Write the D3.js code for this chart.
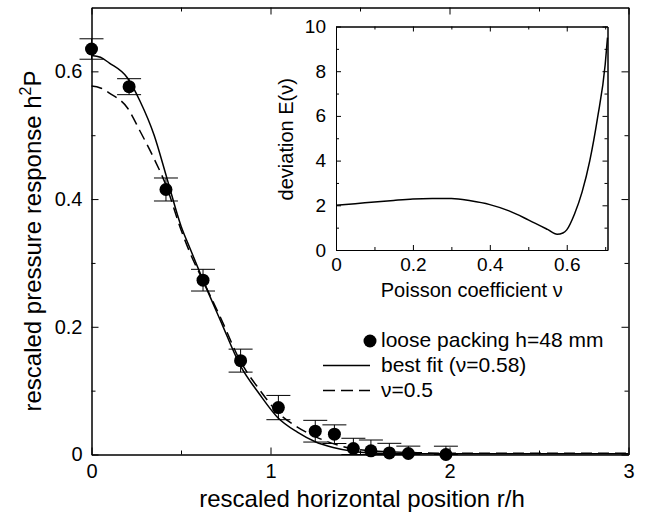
<!DOCTYPE html>
<html>
<head>
<meta charset="utf-8">
<script src="https://cdn.jsdelivr.net/npm/d3@7/dist/d3.min.js"></script>
<style>
  html, body { margin: 0; padding: 0; background: #fff; }
  svg { display: block; }
  text { font-family: "Liberation Sans", Arial, Helvetica, sans-serif; fill: #000; }
</style>
</head>
<body>
<script>
// Measured pressure response (loose packing, h = 48 mm)
const pointX   = [0.00, 0.21, 0.416, 0.623, 0.833, 1.044, 1.25, 1.357, 1.463, 1.561, 1.664, 1.77, 1.98];
const pointY   = [0.635, 0.576, 0.415, 0.273, 0.147, 0.0735, 0.0365, 0.0318, 0.0094, 0.0057, 0.0025, 0.0016, 0.000];
const pointErr = [0.016, 0.0125, 0.018, 0.017, 0.018, 0.019, 0.017, 0.0146, 0.016, 0.017, 0.015, 0.0115, 0.013];

// Best fit response (nu = 0.58)
const fitX = [0, 0.05, 0.1, 0.2, 0.27, 0.35, 0.42, 0.5, 0.55, 0.62, 0.72, 0.83, 0.94, 1.04, 1.15, 1.25, 1.35, 1.46, 1.6, 1.8, 2.0, 2.5, 3.0];
const fitY = [0.625, 0.622, 0.613, 0.590, 0.554, 0.500, 0.434, 0.358, 0.323, 0.275, 0.210, 0.140, 0.094, 0.058, 0.035, 0.020, 0.011, 0.005, 0.002, 0.001, 0.001, 0.001, 0.001];

// Response for nu = 0.5
const halfX = [0, 0.05, 0.1, 0.2, 0.27, 0.35, 0.42, 0.5, 0.55, 0.62, 0.72, 0.83, 0.94, 1.04, 1.15, 1.25, 1.35, 1.46, 1.6, 1.8, 2.0, 2.5, 3.0];
const halfY = [0.577, 0.574, 0.566, 0.543, 0.507, 0.463, 0.419, 0.352, 0.316, 0.274, 0.215, 0.147, 0.101, 0.066, 0.043, 0.028, 0.017, 0.009, 0.005, 0.003, 0.002, 0.002, 0.002];

// Inset: deviation E(nu) against Poisson coefficient
const nuX = [0, 0.05, 0.1, 0.15, 0.2, 0.25, 0.3, 0.35, 0.4, 0.45, 0.5, 0.55, 0.575, 0.59, 0.6, 0.62, 0.64, 0.66, 0.68, 0.7, 0.706];
const devY = [2.0, 2.07, 2.15, 2.22, 2.28, 2.3, 2.3, 2.2, 2.03, 1.75, 1.35, 0.92, 0.70, 0.76, 0.9, 1.6, 2.6, 4.0, 5.9, 8.3, 9.5];

// Axis ticks
const mainXTicks = [0, 1, 2, 3];
const mainXMinor = [0.5, 1.5, 2.5];
const mainYTicks = [0, 0.2, 0.4, 0.6];
const mainYMinor = [0.1, 0.3, 0.5];
const insetXTicks = [0, 0.2, 0.4, 0.6];
const insetXMinor = [0.1, 0.3, 0.5, 0.7];
const insetYTicks = [0, 2, 4, 6, 8, 10];
const insetYMinor = [1, 3, 5, 7, 9];

// Legend entries
const legendLabels = ["loose packing h=48 mm", "best fit (\u03bd=0.58)", "\u03bd=0.5"];
const legendKinds = ["dot", "solid", "dashed"];

const W = 651, H = 514;
const svg = d3.select("body").append("svg").attr("width", W).attr("height", H);

// ---------- main plot ----------
const x = d3.scaleLinear().domain([0, 3]).range([91.5, 628.5]);
const y = d3.scaleLinear().domain([0, 0.7]).range([454.5, 7.5]);

function frame(g, sx, sy, major, minor, majX, minX, majY, minY, fs, padX, padY, fmtX, fmtY) {
  const [x0, x1] = sx.range();
  const [y0, y1] = sy.range();
  // minor ticks on all sides
  g.append("g").attr("transform", `translate(0,${y0})`)
    .call(d3.axisBottom(sx).tickValues(minX).tickSize(-minor).tickSizeOuter(0).tickFormat(""));
  g.append("g").attr("transform", `translate(0,${y1})`)
    .call(d3.axisTop(sx).tickValues(minX).tickSize(-minor).tickSizeOuter(0).tickFormat(""));
  g.append("g").attr("transform", `translate(${x0},0)`)
    .call(d3.axisLeft(sy).tickValues(minY).tickSize(-minor).tickSizeOuter(0).tickFormat(""));
  g.append("g").attr("transform", `translate(${x1},0)`)
    .call(d3.axisRight(sy).tickValues(minY).tickSize(-minor).tickSizeOuter(0).tickFormat(""));
  // major ticks with labels on bottom and left
  g.append("g").attr("class", "lab").attr("transform", `translate(0,${y0})`)
    .call(d3.axisBottom(sx).tickValues(majX).tickSize(-major).tickSizeOuter(0).tickPadding(padX).tickFormat(fmtX));
  g.append("g").attr("transform", `translate(0,${y1})`)
    .call(d3.axisTop(sx).tickValues(majX).tickSize(-major).tickSizeOuter(0).tickFormat(""));
  g.append("g").attr("class", "lab").attr("transform", `translate(${x0},0)`)
    .call(d3.axisLeft(sy).tickValues(majY).tickSize(-major).tickSizeOuter(0).tickPadding(padY).tickFormat(fmtY));
  g.append("g").attr("transform", `translate(${x1},0)`)
    .call(d3.axisRight(sy).tickValues(majY).tickSize(-major).tickSizeOuter(0).tickFormat(""));
  g.selectAll("path.domain").attr("stroke", "#000").attr("stroke-width", 1);
  g.selectAll(".tick line").attr("stroke", "#000").attr("stroke-width", 1);
  g.selectAll(".lab text").attr("font-size", fs).attr("font-family", "Liberation Sans, Arial, sans-serif").attr("fill", "#000");
}

const gMain = svg.append("g");
frame(gMain, x, y, 7, 4, mainXTicks, mainXMinor, mainYTicks, mainYMinor, 20, 9, 9,
  d => d3.format("")(d), d => d === 0 ? "0" : d3.format(".1f")(d));

// curves
const line = d3.line().x(d => x(d[0])).y(d => y(d[1])).curve(d3.curveMonotoneX);
gMain.append("path").datum(fitX.map((v, i) => [v, fitY[i]]))
  .attr("d", line).attr("fill", "none").attr("stroke", "#000").attr("stroke-width", 1.5);
gMain.append("path").datum(halfX.map((v, i) => [v, halfY[i]]))
  .attr("d", line).attr("fill", "none").attr("stroke", "#000").attr("stroke-width", 1.5)
  .attr("stroke-dasharray", "11,6");

// error bars and points
const pts = pointX.map((v, i) => ({ x: v, y: pointY[i], e: pointErr[i] }));
const cap = 12;
const eb = gMain.append("g").attr("stroke", "#000").attr("stroke-width", 1);
pts.forEach(p => {
  const top = y(p.y + p.e);
  const bot = y(Math.max(p.y - p.e, 0));
  const cx = x(p.x);
  eb.append("line").attr("x1", cx).attr("x2", cx).attr("y1", top).attr("y2", bot);
  eb.append("line").attr("x1", cx - cap).attr("x2", cx + cap).attr("y1", top).attr("y2", top);
  eb.append("line").attr("x1", cx - cap).attr("x2", cx + cap).attr("y1", bot).attr("y2", bot);
});
gMain.append("g").selectAll("circle").data(pts).join("circle")
  .attr("cx", d => x(d.x)).attr("cy", d => y(d.y)).attr("r", 6.5).attr("fill", "#000");

// axis titles
gMain.append("text").attr("x", (x.range()[0] + x.range()[1]) / 2 + 2).attr("y", 507)
  .attr("text-anchor", "middle").attr("font-size", 24).text("rescaled horizontal position r/h");
const yt = gMain.append("text").attr("transform", `translate(41,${(y.range()[0] + y.range()[1]) / 2 + 10}) rotate(-90)`)
  .attr("text-anchor", "middle").attr("font-size", 24);
yt.append("tspan").text("rescaled pressure response h");
yt.append("tspan").attr("font-size", 16).attr("dy", -10).text("2");
yt.append("tspan").attr("dy", 10).text("P");

// legend
const lg = gMain.append("g").attr("transform", "translate(0,0)");
legendLabels.forEach((lab, i) => {
  const base = 347 + i * 25;
  const kind = legendKinds[i];
  if (kind === "dot") {
    lg.append("circle").attr("cx", 370).attr("cy", base - 6).attr("r", 6.5).attr("fill", "#000");
  } else {
    lg.append("line").attr("x1", 323).attr("x2", 370).attr("y1", base - 6.5).attr("y2", base - 6.5)
      .attr("stroke", "#000").attr("stroke-width", 1.5)
      .attr("stroke-dasharray", kind === "dashed" ? "12,6" : null);
  }
  lg.append("text").attr("x", 381).attr("y", base).attr("font-size", 21).text(lab);
});

// ---------- inset ----------
const xi = d3.scaleLinear().domain([0, 0.706]).range([336, 607.5]);
const yi = d3.scaleLinear().domain([0, 10]).range([250, 26.5]);
const gIn = svg.append("g");
frame(gIn, xi, yi, 5, 3, insetXTicks, insetXMinor, insetYTicks, insetYMinor, 19, 8, 10,
  d => d === 0 ? "0" : d3.format(".1f")(d), d => d3.format("")(d));

const lineI = d3.line().x(d => xi(d[0])).y(d => yi(d[1])).curve(d3.curveMonotoneX);
gIn.append("path").datum(nuX.map((v, i) => [v, devY[i]]))
  .attr("d", lineI).attr("fill", "none").attr("stroke", "#000").attr("stroke-width", 1.5);

gIn.append("text").attr("x", (xi.range()[0] + xi.range()[1]) / 2).attr("y", 297)
  .attr("text-anchor", "middle").attr("font-size", 20).text("Poisson coefficient \u03bd");
gIn.append("text").attr("transform", `translate(293,${(yi.range()[0] + yi.range()[1]) / 2 + 1}) rotate(-90)`)
  .attr("text-anchor", "middle").attr("font-size", 20).text("deviation E(\u03bd)");
</script>
</body>
</html>
